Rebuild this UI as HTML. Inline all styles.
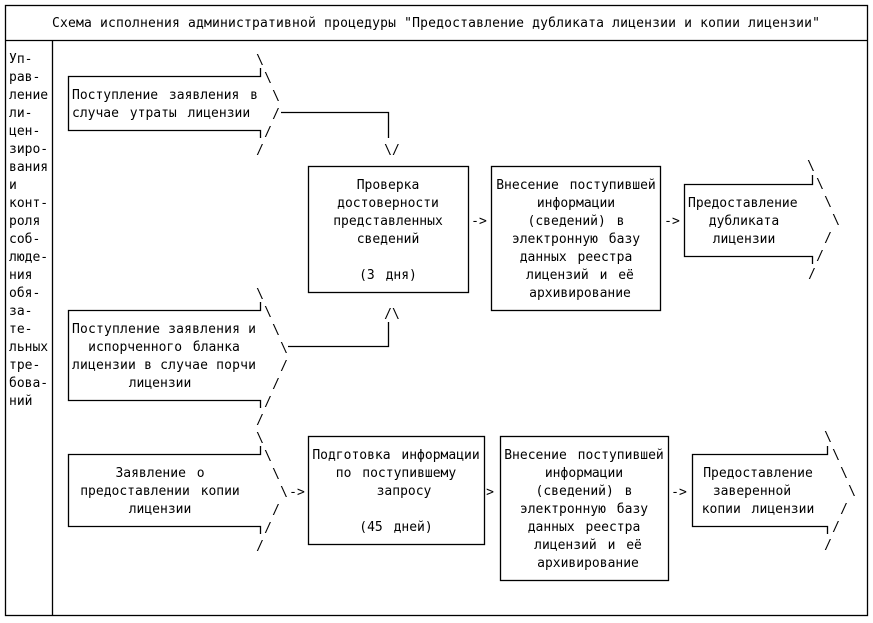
<!DOCTYPE html>
<html><head><meta charset="utf-8"><style>
html,body{margin:0;padding:0;background:#fff;}
svg{display:block;}
text{font-family:"DejaVu Sans Mono","Liberation Mono",monospace;font-size:13px;fill:#000;word-spacing:3px;}
.c{text-anchor:middle;}
</style></head><body>
<svg width="873" height="623" viewBox="0 0 873 623" xmlns="http://www.w3.org/2000/svg">
<g fill="none" stroke="#000" stroke-width="1.3">
<rect x="5.5" y="5.5" width="862" height="610"/>
<line x1="5" y1="40.5" x2="868" y2="40.5"/>
<line x1="52.5" y1="40" x2="52.5" y2="616"/>
<polyline points="260.5,68 260.5,76.5 68.5,76.5 68.5,130.5 260.5,130.5 260.5,138"/>
<polyline points="281,112.5 388.5,112.5 388.5,138"/>
<polyline points="260.5,302 260.5,310.5 68.5,310.5 68.5,400.5 260.5,400.5 260.5,408"/>
<polyline points="288,346.5 388.5,346.5 388.5,322"/>
<polyline points="260.5,446 260.5,454.5 68.5,454.5 68.5,526.5 260.5,526.5 260.5,534"/>
<rect x="308.5" y="166.5" width="160" height="126"/>
<rect x="491.5" y="166.5" width="169" height="144"/>
<rect x="308.5" y="436.5" width="176" height="108"/>
<rect x="500.5" y="436.5" width="168" height="144"/>
<polyline points="812.5,175 812.5,184.5 684.5,184.5 684.5,256.5 812.5,256.5 812.5,264"/>
<polyline points="827.5,446 827.5,454.5 692.5,454.5 692.5,526.5 827.5,526.5 827.5,534"/>
</g>
<text x="436" y="27" class="c" textLength="768" style="word-spacing:0">Схема исполнения административной процедуры "Предоставление дубликата лицензии и копии лицензии"</text>
<g>
<text x="9" y="63">Уп-</text><text x="9" y="81">рав-</text><text x="9" y="99">ление</text><text x="9" y="117">ли-</text><text x="9" y="135">цен-</text><text x="9" y="153">зиро-</text><text x="9" y="171">вания</text><text x="9" y="189">и</text><text x="9" y="207">конт-</text><text x="9" y="225">роля</text><text x="9" y="243">соб-</text><text x="9" y="261">люде-</text><text x="9" y="279">ния</text><text x="9" y="297">обя-</text><text x="9" y="315">за-</text><text x="9" y="333">те-</text><text x="9" y="351">льных</text><text x="9" y="369">тре-</text><text x="9" y="387">бова-</text><text x="9" y="405">ний</text>
</g>
<text x="72" y="99">Поступление заявления в</text>
<text x="72" y="117">случае утраты лицензии</text>
<text x="260" y="64" class="c">\</text><text x="268" y="82" class="c">\</text><text x="276" y="100" class="c">\</text><text x="276" y="118" class="c">/</text><text x="268" y="136" class="c">/</text><text x="260" y="154" class="c">/</text>
<text x="392" y="154" class="c">\/</text>
<text x="388" y="189" class="c">Проверка</text>
<text x="388" y="207" class="c">достоверности</text>
<text x="388" y="225" class="c">представленных</text>
<text x="388" y="243" class="c">сведений</text>
<text x="388" y="279" class="c">(3 дня)</text>
<text x="479" y="225" class="c">-&gt;</text>
<text x="576" y="189" class="c">Внесение поступившей</text>
<text x="576" y="207" class="c">информации</text>
<text x="576" y="225" class="c">(сведений) в</text>
<text x="576" y="243" class="c">электронную базу</text>
<text x="576" y="261" class="c">данных реестра</text>
<text x="580" y="279" class="c">лицензий и её</text>
<text x="580" y="297" class="c">архивирование</text>
<text x="672" y="225" class="c">-&gt;</text>
<text x="688" y="207">Предоставление</text>
<text x="744" y="225" class="c">дубликата</text>
<text x="744" y="243" class="c">лицензии</text>
<text x="811" y="170" class="c">\</text><text x="820" y="188" class="c">\</text><text x="828" y="206" class="c">\</text><text x="836" y="224" class="c">\</text><text x="828" y="242" class="c">/</text><text x="820" y="260" class="c">/</text><text x="812" y="278" class="c">/</text>
<text x="72" y="333" textLength="184" style="word-spacing:0">Поступление заявления и</text>
<text x="164" y="351" class="c">испорченного бланка</text>
<text x="72" y="369" textLength="184" style="word-spacing:0">лицензии в случае порчи</text>
<text x="160" y="387" class="c">лицензии</text>
<text x="260" y="298" class="c">\</text><text x="268" y="316" class="c">\</text><text x="276" y="334" class="c">\</text><text x="284" y="352" class="c">\</text><text x="284" y="370" class="c">/</text><text x="276" y="388" class="c">/</text><text x="268" y="406" class="c">/</text><text x="260" y="424" class="c">/</text>
<text x="392" y="318" class="c">/\</text>
<text x="160" y="477" class="c">Заявление о</text>
<text x="160" y="495" class="c">предоставлении копии</text>
<text x="160" y="513" class="c">лицензии</text>
<text x="260" y="442" class="c">\</text><text x="268" y="460" class="c">\</text><text x="276" y="478" class="c">\</text><text x="284" y="496" class="c">\</text><text x="276" y="514" class="c">/</text><text x="268" y="532" class="c">/</text><text x="260" y="550" class="c">/</text>
<text x="297" y="496" class="c">-&gt;</text>
<text x="396" y="459" class="c">Подготовка информации</text>
<text x="396" y="477" class="c">по поступившему</text>
<text x="404" y="495" class="c">запросу</text>
<text x="396" y="531" class="c">(45 дней)</text>
<text x="490" y="496" class="c">&gt;</text>
<text x="584" y="459" class="c">Внесение поступившей</text>
<text x="584" y="477" class="c">информации</text>
<text x="584" y="495" class="c">(сведений) в</text>
<text x="584" y="513" class="c">электронную базу</text>
<text x="584" y="531" class="c">данных реестра</text>
<text x="588" y="549" class="c">лицензий и её</text>
<text x="588" y="567" class="c">архивирование</text>
<text x="679" y="496" class="c">-&gt;</text>
<text x="758" y="477" class="c">Предоставление</text>
<text x="752" y="495" class="c">заверенной</text>
<text x="758" y="513" class="c">копии лицензии</text>
<text x="828" y="441" class="c">\</text><text x="836" y="459" class="c">\</text><text x="844" y="477" class="c">\</text><text x="852" y="495" class="c">\</text><text x="844" y="513" class="c">/</text><text x="836" y="531" class="c">/</text><text x="828" y="549" class="c">/</text>
</svg>
</body></html>
